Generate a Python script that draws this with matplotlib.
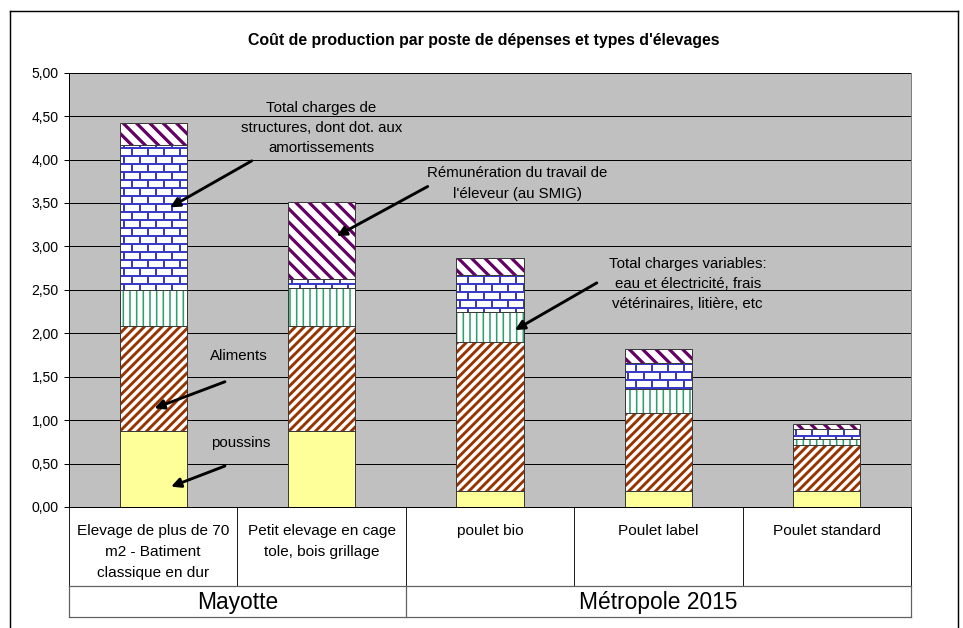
import numpy as np
import matplotlib
matplotlib.use("Agg")
import matplotlib.pyplot as plt
from matplotlib import hatch as mhatch
from matplotlib.path import Path
from matplotlib.lines import Line2D

# ---------------- data ----------------
categories = ["Elevage de plus de 70\nm2 - Batiment\nclassique en dur",
              "Petit elevage en cage\ntole, bois grillage",
              "poulet bio", "Poulet label", "Poulet standard"]
groups = ["Mayotte", "Métropole 2015"]
group_sizes = [2, 3]

poussins = [0.88, 0.88, 0.18, 0.18, 0.18]
aliments = [1.20, 1.20, 1.72, 0.90, 0.53]
variables = [0.42, 0.44, 0.35, 0.28, 0.07]
structures = [1.67, 0.11, 0.42, 0.30, 0.12]
remuneration = [0.25, 0.88, 0.20, 0.16, 0.06]

yticks = [0.0, 0.5, 1.0, 1.5, 2.0, 2.5, 3.0, 3.5, 4.0, 4.5, 5.0]
ytick_labels = ["0,00", "0,50", "1,00", "1,50", "2,00", "2,50",
                "3,00", "3,50", "4,00", "4,50", "5,00"]

title = "Coût de production par poste de dépenses et types d'élevages"


# ---------------- custom brick hatch (uses the 'O' hatch character) ----------------
class BrickHatch(mhatch.HatchPatternBase):
    nx = 5
    ny = 10

    def __init__(self, hatch, density):
        if "O" in hatch:
            self.num_vertices = 2 * self.ny + 2 * self.nx * (self.ny - 1) + 4 * self.nx
        else:
            self.num_vertices = 0

    def set_vertices_and_codes(self, vertices, codes):
        nx, ny = self.nx, self.ny
        segs = []
        ys = [(j + 0.5) / ny for j in range(ny)]
        for y in ys:
            segs.append(((0.0, y), (1.0, y)))
        for j in range(ny):
            off = 0.5 * (j % 2) + 0.25
            for i in range(nx):
                xv = ((i + off) / nx) % 1.0
                if j < ny - 1:
                    segs.append(((xv, ys[j]), (xv, ys[j + 1])))
                else:
                    segs.append(((xv, ys[j]), (xv, 1.0)))
                    segs.append(((xv, 0.0), (xv, ys[0])))
        arr = np.array(segs, dtype=float).reshape(-1, 2)
        vertices[:] = arr
        codes[0::2] = Path.MOVETO
        codes[1::2] = Path.LINETO


mhatch._hatch_types = [t for t in mhatch._hatch_types
                       if t.__name__ != "LargeCircles"] + [BrickHatch]

# ---------------- figure ----------------
DPI = 80
plt.rcParams["font.family"] = ["Liberation Sans", "DejaVu Sans"]
fig = plt.figure(figsize=(963 / DPI, 628 / DPI), dpi=DPI)
fig.patch.set_facecolor("white")

ax_left, ax_right = 69 / 963, 911 / 963
ax_top, ax_bot = 72.7 / 628, 507 / 628
ax = fig.add_axes([ax_left, 1 - ax_bot, ax_right - ax_left, ax_bot - ax_top])
ax.set_facecolor("#C0C0C0")

x = np.arange(len(categories))
width = 0.40

series = [
    (poussins, "#FFFF99", None, None, 1.0),
    (aliments, "white", "#993300", "///", 2.6),
    (variables, "white", "#2E9E6A", "||", 1.4),
    (structures, "white", "#3A3AC8", "O", 1.8),
    (remuneration, "white", "#660066", "\\\\", 2.9),
]

bottom = np.zeros(len(categories))
for vals, face, hcol, hatch, hlw in series:
    vals = np.asarray(vals, dtype=float)
    with plt.rc_context({"hatch.linewidth": hlw}):
        if hatch:
            bars = ax.bar(x, vals, width, bottom=bottom, color=face,
                          edgecolor=hcol, linewidth=0, hatch=hatch, zorder=3)
            for b in bars:
                if hasattr(b, "set_hatch_linewidth"):
                    b.set_hatch_linewidth(hlw)
        else:
            ax.bar(x, vals, width, bottom=bottom, color=face, linewidth=0, zorder=3)
    ax.bar(x, vals, width, bottom=bottom, fill=False, edgecolor="#3a3a3a",
           linewidth=0.9, zorder=4)
    bottom = bottom + vals

ax.set_xlim(-0.5, len(categories) - 0.5)
ax.set_ylim(0, 5)
ax.set_yticks(yticks)
ax.set_yticklabels(ytick_labels, fontsize=12.6)
ax.set_xticks([])
ax.tick_params(axis="y", length=4.5, width=0.9, pad=5, colors="black")
ax.set_axisbelow(True)
ax.yaxis.grid(True, color="black", linewidth=0.9)

ax.spines["top"].set_visible(False)
ax.spines["right"].set_color("#808080")
ax.spines["left"].set_color("black")
ax.spines["bottom"].set_color("black")
for s in ax.spines.values():
    s.set_linewidth(0.9)

# ---------------- category table under the axis ----------------
tr = ax.get_xaxis_transform()
axh = 507 - 72.7
y_row = -(586 - 507) / axh
y_bot = -(617 - 507) / axh
edges = np.arange(len(categories) + 1) - 0.5
for e in edges:
    ax.plot([e, e], [0, y_row], transform=tr, color="#202020", lw=0.9, clip_on=False)
ax.plot([edges[0], edges[-1]], [y_row, y_row], transform=tr, color="#606060", lw=1.1, clip_on=False)
ax.plot([edges[0], edges[-1]], [y_bot, y_bot], transform=tr, color="#606060", lw=1.1, clip_on=False)
gstart = 0
gedges = [edges[0]]
for gs in group_sizes:
    gstart += gs
    gedges.append(edges[gstart])
for e in gedges:
    ax.plot([e, e], [y_row, y_bot], transform=tr, color="#606060", lw=1.1, clip_on=False)

for i, lab in enumerate(categories):
    ax.text(x[i], -(524 - 507) / axh, lab, transform=tr, ha="center", va="top",
            fontsize=13.8, linespacing=1.62, multialignment="center")

gstart = 0
for g, gs in zip(groups, group_sizes):
    cx = (edges[gstart] + edges[gstart + gs]) / 2
    ax.text(cx, -(602 - 507) / axh, g, transform=tr, ha="center", va="center",
            fontsize=20.5)
    gstart += gs

# ---------------- annotations ----------------
arrow = dict(arrowstyle="-|>,head_length=0.7,head_width=0.35", lw=2.6,
             color="black", shrinkA=0, shrinkB=0)
fs_ann = 13.5
ls_ann = 1.56
ax.text(1.00, 4.36, "Total charges de\nstructures, dont dot. aux\namortissements",
        ha="center", va="center", fontsize=fs_ann, linespacing=ls_ann, zorder=6)
ax.annotate("", xy=(0.10, 3.45), xytext=(0.585, 3.985), arrowprops=arrow, zorder=6)

ax.text(2.163, 3.725, "Rémunération du travail de\nl'éleveur (au SMIG)",
        ha="center", va="center", fontsize=fs_ann, linespacing=ls_ann, zorder=6)
ax.annotate("", xy=(1.09, 3.12), xytext=(1.63, 3.69), arrowprops=arrow, zorder=6)

ax.text(3.174, 2.566, "Total charges variables:\neau et électricité, frais\nvétérinaires, litière, etc",
        ha="center", va="center", fontsize=fs_ann, linespacing=ls_ann, zorder=6)
ax.annotate("", xy=(2.148, 2.037), xytext=(2.634, 2.58), arrowprops=arrow, zorder=6)

ax.text(0.508, 1.738, "Aliments", ha="center", va="center", fontsize=fs_ann, zorder=6)
ax.annotate("", xy=(0.007, 1.136), xytext=(0.426, 1.442), arrowprops=arrow, zorder=6)

ax.text(0.517, 0.733, "poussins", ha="center", va="center", fontsize=fs_ann, zorder=6)
ax.annotate("", xy=(0.106, 0.234), xytext=(0.426, 0.472), arrowprops=arrow, zorder=6)

# ---------------- title and outer frame ----------------
fig.text(484 / 963, 1 - 40 / 628, title, ha="center", va="center",
         fontsize=14.3, fontweight="bold")

fl, fr, ft = 10 / 963, 957.5 / 963, 1 - 11 / 628
for xs, ys in [([fl, fl], [0, ft]), ([fl, fr], [ft, ft]), ([fr, fr], [ft, 0])]:
    fig.add_artist(Line2D(xs, ys, transform=fig.transFigure, color="black", lw=1.3))

fig.savefig("out.png", dpi=DPI, facecolor="white")
